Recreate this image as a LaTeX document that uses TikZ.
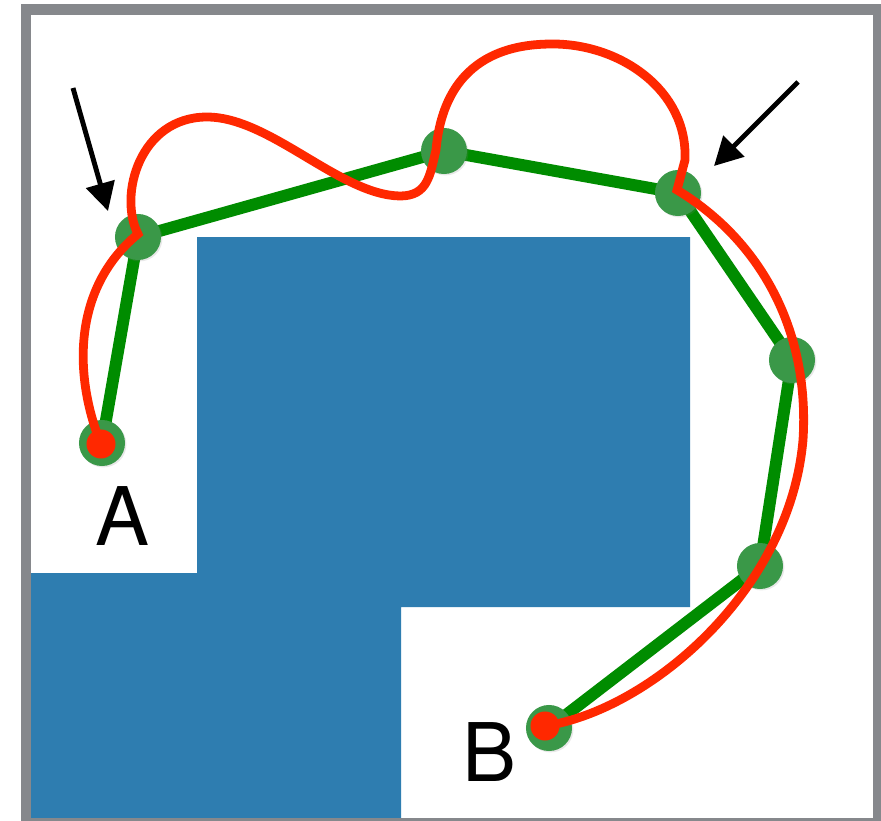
\documentclass[tikz,border=0pt]{standalone}
\usepackage{fontspec}
\setmainfont{TeX Gyre Heros}
\usetikzlibrary{arrows.meta,shadows}
\definecolor{framegray}{RGB}{134,136,140}
\definecolor{wallblue}{RGB}{46,125,176}
\definecolor{pathgreen}{RGB}{0,140,0}
\definecolor{dotgreen}{RGB}{58,152,72}
\definecolor{curvered}{RGB}{255,40,0}
\pgfdeclarelayer{walls}
\pgfdeclarelayer{lines}
\pgfsetlayers{walls,lines,main}
\tikzset{
  gdot/.style={circle,fill=dotgreen,inner sep=0pt,minimum size=0.46cm,
    drop shadow={opacity=0.18,shadow xshift=0.4pt,shadow yshift=-0.4pt}},
  rdot/.style={circle,fill=curvered,inner sep=0pt,minimum size=0.29cm},
  gpath/.style={draw=pathgreen,line width=3.4pt,line join=round,line cap=round},
  rcurve/.style={draw=curvered,line width=2.5pt,line join=miter,line cap=round},
  pointer/.style={draw=black,line width=1.4pt,-{Triangle[length=8pt,width=8.2pt]}},
  lbl/.style={inner sep=0pt,font=\fontsize{23}{23}\selectfont},
}
\begin{document}
\begin{tikzpicture}[x=0.01cm,y=-0.01cm]
\useasboundingbox (0,0) rectangle (881,821);
\begin{scope}
\clip (0,0) rectangle (881,821);
\begin{pgfonlayer}{walls}
\fill[white] (0,0) rectangle (881,821);
\fill[wallblue] (197,237) -- (690,237) -- (690,607) -- (401,607) -- (401,823)
  -- (26,823) -- (26,573) -- (197,573) -- cycle;
\end{pgfonlayer}
% waypoints
\node[gdot] (A) at (102,443) {};
\node[gdot] (P1) at (138,237) {};
\node[gdot] (P2) at (444,151) {};
\node[gdot] (P3) at (678,193) {};
\node[gdot] (P4) at (792,360) {};
\node[gdot] (P5) at (760,566) {};
\node[gdot] (B) at (549,728) {};
% green polyline under the circles
\begin{pgfonlayer}{lines}
\path[gpath] (A.center) -- (P1.center) -- (P2.center) -- (P3.center)
  -- (P4.center) -- (P5.center) -- (B.center);
\end{pgfonlayer}
% red curve
\coordinate (rs) at (101,444);
\coordinate (c1) at (138,234);
\coordinate (c3) at (677,190);
\coordinate (re) at (545,726);
\path[rcurve] (rs) .. controls (75,380) and (70,290) .. (c1)
  .. controls (118,195) and (140,117) .. (207,117)
  .. controls (270,117) and (340,195) .. (400,196)
  .. controls (428,196) and (430,175) .. (436,150)
  .. controls (445,50) and (520,44) .. (553,44)
  .. controls (620,44) and (688,90) .. (685,160)
  -- (c3)
  .. controls (760,240) and (810,330) .. (803,440)
  .. controls (790,590) and (650,710) .. (re);
\node[rdot] (RA) at (rs) {};
\node[rdot] (RB) at (re) {};
% arrows
\coordinate (a1s) at (73,88);
\coordinate (a1t) at (108,211);
\coordinate (a2s) at (798,82);
\coordinate (a2t) at (714,166);
\draw[pointer] (a1s) -- (a1t);
\draw[pointer] (a2s) -- (a2t);
% labels
\node[lbl] (LA) at (122,516) {A};
\node[lbl] (LB) at (489,752) {B};
% frame
\draw[framegray,line width=2.85pt] (26,9.5) rectangle (878,823);
\end{scope}
\end{tikzpicture}
\end{document}
